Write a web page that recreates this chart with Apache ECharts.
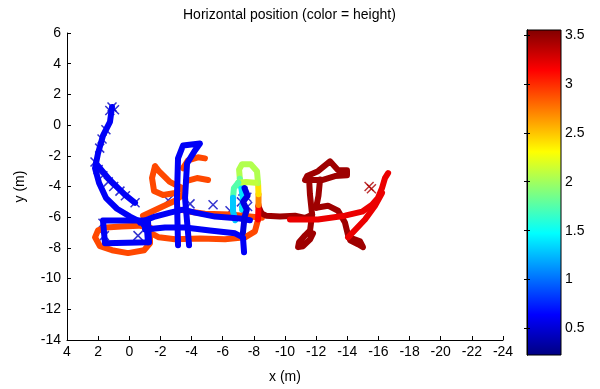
<!DOCTYPE html>
<html>
<head>
<meta charset="utf-8">
<script src="https://cdn.jsdelivr.net/npm/echarts@6/dist/echarts.min.js"></script>
<style>
  html, body { margin: 0; padding: 0; background: #fff; }
  #chart { width: 600px; height: 389px; }
</style>
</head>
<body>
<div id="chart"></div>
<script>
// colour scale (height, m)
const heightMin = 0.23;
const heightMax = 3.55;
const colorbarTicks = [0.5, 1, 1.5, 2, 2.5, 3, 3.5];

// ground level walk (blue)
const walkWestCurve = [[1.11, 1.18], [1.24, 0.21], [1.69, -0.69], [2.01, -1.85], [2.2, -2.81], [1.94, -3.77], [1.5, -4.74], [0.79, -5.45], [-0.05, -5.96], [-0.82, -6.35], [-1.14, -6.8], [-1.2, -7.63]];
const walkDiagonal = [[2.14, -2.49], [1.24, -3.58], [0.27, -4.55], [-0.37, -5.06]];
const walkBox = [[1.69, -6.22], [-1.2, -6.22], [-1.27, -7.63], [1.56, -7.7], [1.69, -6.22]];
const walkTallLoop = [[-3.13, -7.83], [-3.06, -4.74], [-3.13, -2.17], [-3.45, -1.33], [-4.54, -1.2], [-4.22, -1.65], [-3.71, -2.49], [-3.58, -4.74], [-3.84, -7.83]];
const walkMidUpper = [[-0.69, -6.35], [-1.65, -5.96], [-2.62, -5.7], [-3.45, -5.51], [-4.22, -5.7], [-5.51, -5.96], [-7.11, -6.09], [-7.75, -6.2]];
const walkMidLower = [[-1.01, -6.8], [-2.29, -6.67], [-3.58, -6.67], [-5.18, -6.86], [-6.79, -7.05], [-7.3, -7.31], [-7.37, -8.28]];
const walkStairs = [[-7.4, -4.1], [-7.6, -4.6], [-7.3, -5.0], [-7.55, -5.5], [-7.4, -6.0], [-7.3, -7.0]];

// first floor (orange)
const floorBoxLoop = [[-1.33, -6.67], [-1.33, -7.7], [-0.95, -8.15], [0.08, -8.34], [1.11, -8.15], [1.88, -7.89], [2.2, -7.31], [2.01, -6.86], [1.5, -6.67], [0.5, -6.6], [-0.6, -6.55], [-1.33, -6.67]];
const floorHook = [[-1.65, -2.68], [-1.46, -3.45], [-1.59, -4.29], [-2.17, -4.55], [-2.94, -4.42], [-3.39, -4.1], [-2.6, -3.7], [-1.9, -3.0], [-1.65, -2.68]];
const floorDiagonal = [[-0.88, -5.9], [-1.97, -5.38], [-2.94, -4.93], [-3.58, -4.42]];
const floorUpperHook = [[-3.45, -2.81], [-3.77, -2.3], [-4.41, -2.1], [-4.86, -2.17]];
const floorStub = [[-3.64, -3.65], [-4.35, -3.45], [-5.06, -3.58]];
const floorMidUpper = [[-3.26, -5.51], [-3.9, -5.64], [-4.86, -5.77], [-6.47, -5.83], [-7.75, -5.96], [-8.52, -6.03]];
const floorMidLower = [[-1.33, -7.0], [-1.9, -7.31], [-2.94, -7.44], [-4.54, -7.38], [-6.15, -7.44], [-7.43, -7.31], [-8.07, -6.92], [-8.27, -6.15]];

// staircase
const riseRed = [[-8.27, -6.15], [-8.3, -5.2]];
const riseOrange = [[-8.3, -5.2], [-8.3, -4.5]];
const riseYellow = [[-8.3, -4.5], [-8.27, -3.77]];
const stairTopLoop = [[-8.27, -3.77], [-8.2, -3.0], [-7.8, -2.55], [-7.24, -2.55], [-7.05, -2.9], [-7.1, -3.5]];
const stairTopGreen = [[-7.1, -3.5], [-7.2, -4.1]];
const stairTopCyan = [[-7.2, -4.1], [-7.3, -4.8], [-7.24, -5.5]];
const stairLowLoop = [[-8.1, -3.75], [-7.5, -3.7], [-7.0, -3.75]];
const stairLowGreen = [[-7.0, -3.75], [-6.72, -4.1], [-6.66, -4.74]];
const stairLowCyan = [[-6.66, -4.74], [-6.66, -5.6], [-6.8, -6.2]];

// second floor (dark red / red)
const upperRun = [[-8.3, -5.3], [-8.5, -5.75], [-8.78, -5.9], [-9.68, -5.96], [-10.64, -5.9], [-11.29, -6.05], [-11.74, -5.83]];
const upperPostA = [[-11.74, -5.83], [-11.6, -4.5], [-11.55, -3.55]];
const upperPostB = [[-12.25, -3.55], [-12.15, -4.6], [-12.0, -5.38]];
const upperTop = [[-11.29, -3.58], [-11.42, -3.32], [-12.12, -3.0], [-12.89, -2.36], [-13.41, -2.94], [-13.98, -2.94], [-13.98, -3.26], [-13.21, -3.32], [-12.38, -3.58], [-11.29, -3.58]];
const upperFoot = [[-11.74, -5.83], [-11.61, -6.86], [-11.29, -7.18], [-10.9, -7.63], [-10.84, -7.95], [-11.16, -7.89], [-11.61, -7.44], [-11.8, -7.05]];
const upperArc = [[-12.0, -5.38], [-12.76, -5.25], [-13.41, -5.58], [-13.85, -6.35], [-14.05, -7.18], [-14.18, -7.5], [-14.69, -7.76], [-15.01, -7.95], [-14.82, -7.57], [-14.3, -7.38]];
const upperRamp = [[-10.32, -6.15], [-12.12, -6.15], [-13.85, -5.9], [-14.95, -5.64], [-15.59, -5.19], [-15.97, -4.74], [-16.23, -4.1], [-16.42, -3.45], [-16.62, -3.13]];
const upperBrace = [[-14.05, -7.31], [-15.14, -6.15], [-15.78, -5.25], [-16.23, -4.42]];

// cross markers
const crossX = [1.11, 1.25, 0.95, 1.5, 1.75, 1.9, 2.2, 2.0, 1.7, 1.35, 1.0, 0.6, 0.25, -0.37, 1.69, 1.6, -0.56, -2.5, -3.9, -5.38, -6.47, -7.3, -7.55, -7.2, -7.6, -7.35, -15.4, -15.55];
const crossY = [1.18, 0.95, 1.0, -0.3, -0.9, -1.5, -2.4, -2.9, -3.3, -3.7, -4.0, -4.3, -4.6, -5.06, -6.4, -7.2, -7.2, -4.9, -5.13, -5.19, -5.58, -4.3, -4.7, -5.0, -5.3, -5.6, -4.0, -4.15];
const crossH = [0.45, 0.45, 0.45, 0.45, 0.45, 0.45, 0.45, 0.45, 0.45, 0.45, 0.45, 0.45, 0.45, 0.45, 0.45, 0.45, 0.45, 0.45, 0.45, 0.45, 0.45, 0.45, 0.45, 0.45, 0.45, 0.45, 3.4, 3.4];

const tracks = [
  [floorBoxLoop, 2.9], [floorHook, 2.9], [floorDiagonal, 2.9], [floorUpperHook, 2.9],
  [floorStub, 2.9], [floorMidUpper, 2.9], [floorMidLower, 2.9],
  [upperRun, 3.45], [upperPostA, 3.45], [upperPostB, 3.45], [upperTop, 3.45],
  [upperFoot, 3.45], [upperArc, 3.45], [upperRamp, 3.2], [upperBrace, 3.2],
  [riseRed, 3.15], [riseOrange, 2.7], [riseYellow, 2.4],
  [stairTopLoop, 2.05], [stairTopGreen, 1.8], [stairTopCyan, 1.4],
  [stairLowLoop, 2.1], [stairLowGreen, 1.75], [stairLowCyan, 1.3],
  [walkWestCurve, 0.62], [walkDiagonal, 0.62], [walkBox, 0.62], [walkTallLoop, 0.62],
  [walkMidUpper, 0.62], [walkMidLower, 0.62], [walkStairs, 0.55]
];

// matlab jet colormap
function jet(h) {
  const t = Math.min(1, Math.max(0, (h - heightMin) / (heightMax - heightMin)));
  const c = v => Math.round(255 * Math.min(1, Math.max(0, v)));
  return `rgb(${c(1.5 - Math.abs(4 * t - 3))},${c(1.5 - Math.abs(4 * t - 2))},${c(1.5 - Math.abs(4 * t - 1))})`;
}

const jetStops = [0, 0.125, 0.375, 0.625, 0.875, 1].map(t => ({
  offset: 1 - t,
  color: jet(heightMin + t * (heightMax - heightMin))
}));

const font = { fontFamily: "Liberation Sans", fontSize: 14, color: "#000" };

let chart = echarts.init(document.getElementById("chart"));

const series = tracks.map(([pts, h]) => ({
  type: "line",
  data: pts,
  symbol: "none",
  silent: true,
  lineStyle: { width: 6, color: jet(h), cap: "round", join: "round" }
}));

series.push({
  type: "scatter",
  symbol: "path://M0,0L10,10M10,0L0,10",
  symbolSize: 9,
  silent: true,
  data: crossX.map((x, i) => ({
    value: [x, crossY[i]],
    itemStyle: { color: "none", borderColor: jet(crossH[i]), borderWidth: 1.5 }
  }))
});

const option = {
  animation: false,
  title: {
    text: "Horizontal position (color = height)",
    left: 178,
    top: 3,
    textStyle: { ...font, fontWeight: "normal" }
  },
  grid: [
    { left: 67, top: 33, width: 436, height: 311 },
    {
      left: 527, top: 30, width: 34, height: 325,
      show: true, borderColor: "#000", borderWidth: 1,
      backgroundColor: { type: "linear", x: 0, y: 0, x2: 0, y2: 1, colorStops: jetStops }
    }
  ],
  xAxis: [
    {
      type: "value", gridIndex: 0, min: -24, max: 4, interval: 2, inverse: true,
      name: "x (m)", nameLocation: "middle", nameGap: 30, nameTextStyle: font,
      axisLine: { onZero: false, lineStyle: { color: "#000" } },
      axisTick: { inside: true, length: 4, lineStyle: { color: "#000" } },
      axisLabel: { ...font, margin: 5 },
      splitLine: { show: false }
    },
    { type: "value", gridIndex: 1, min: 0, max: 1, show: false }
  ],
  yAxis: [
    {
      type: "value", gridIndex: 0, min: -14, max: 6, interval: 2,
      name: "y (m)", nameLocation: "middle", nameGap: 40, nameTextStyle: font,
      axisLine: { onZero: false, lineStyle: { color: "#000" } },
      axisTick: { inside: true, length: 4, lineStyle: { color: "#000" } },
      axisLabel: { ...font, margin: 6 },
      splitLine: { show: false }
    },
    {
      type: "value", gridIndex: 1, min: heightMin, max: heightMax, position: "right",
      axisLine: { show: true, lineStyle: { color: "#000" } },
      axisTick: { inside: true, length: 3, customValues: colorbarTicks, lineStyle: { color: "#000" } },
      axisLabel: { ...font, margin: 4, customValues: colorbarTicks },
      splitLine: { show: false }
    },
    {
      type: "value", gridIndex: 1, min: heightMin, max: heightMax, position: "left",
      axisLine: { show: true, lineStyle: { color: "#000" } },
      axisTick: { inside: true, length: 3, customValues: colorbarTicks, lineStyle: { color: "#000" } },
      axisLabel: { show: false },
      splitLine: { show: false }
    }
  ],
  series: series
};

chart.setOption(option);
</script>
</body>
</html>
